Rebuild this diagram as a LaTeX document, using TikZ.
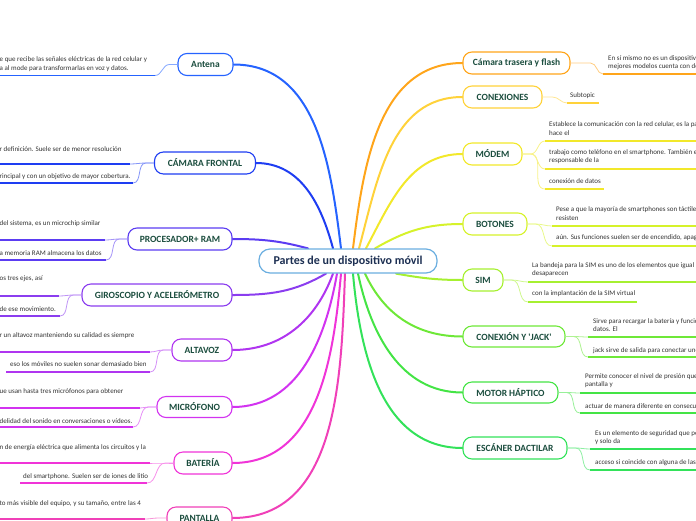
\documentclass[tikz,border=0pt]{standalone}
\usepackage{fontspec}
\setmainfont{Carlito}
\usetikzlibrary{backgrounds}
\definecolor{cAnt}{HTML}{2563FF}
\definecolor{cCF}{HTML}{1E3DF2}
\definecolor{cPro}{HTML}{5B3CF2}
\definecolor{cGir}{HTML}{8B3DEF}
\definecolor{cAlt}{HTML}{B035F0}
\definecolor{cMic}{HTML}{D233F0}
\definecolor{cBat}{HTML}{F034D8}
\definecolor{cPan}{HTML}{F040B8}
\definecolor{cCT}{HTML}{FFA51A}
\definecolor{cCon}{HTML}{FFD23A}
\definecolor{cMod}{HTML}{F2E82A}
\definecolor{cBot}{HTML}{D6F22A}
\definecolor{cSim}{HTML}{A6F030}
\definecolor{cJac}{HTML}{6EE838}
\definecolor{cMot}{HTML}{44E445}
\definecolor{cEsc}{HTML}{33E25A}
\definecolor{cCen}{HTML}{6AAEE0}
\definecolor{tNode}{HTML}{1B4D3E}
\definecolor{tCen}{HTML}{1C2F52}
\definecolor{tLeaf}{HTML}{333333}
\tikzset{
  topic/.style={draw=#1, line width=1.1pt, fill=white, rounded corners=9pt, text=tNode,
    font=\fontsize{9.5}{11}\selectfont\bfseries, minimum height=22pt, inner sep=0pt},
  centre/.style={draw=cCen, line width=1.2pt, fill=white, rounded corners=11pt, text=tCen,
    font=\fontsize{12}{14}\selectfont\bfseries, minimum height=24pt, minimum width=178pt, inner sep=0pt},
  branch/.style={draw=#1, line width=2pt, line cap=round},
  twig/.style={draw=#1!55, line width=0.8pt},
  uline/.style={draw=#1, line width=1.4pt},
  leaf/.style={font=\fontsize{7}{8}\selectfont, text=tLeaf, inner sep=0pt, anchor=west},
}
\begin{document}
\begin{tikzpicture}[x=1pt,y=1pt]
\useasboundingbox (0,0) rectangle (696,-520);
% central
\node[centre] (cen) at (348,-261) {Partes de un dispositivo móvil};
% left topics
\node[topic=cAnt, minimum width=55pt] (ant) at (205.5,-64.5) {Antena};
\node[topic=cCF, minimum width=101pt] (camf) at (205,-163) {CÁMARA FRONTAL};
\node[topic=cPro, minimum width=104pt] (proc) at (180,-239) {PROCESADOR+ RAM};
\node[topic=cGir, minimum width=150pt] (giro) at (157,-295) {GIROSCOPIO Y ACELERÓMETRO};
\node[topic=cAlt, minimum width=60pt] (alta) at (202,-350) {ALTAVOZ};
\node[topic=cMic, minimum width=75pt, minimum height=21pt] (micro) at (194.5,-407) {MICRÓFONO};
\node[topic=cBat, minimum width=58pt] (bat) at (203,-463) {BATERÍA};
\node[topic=cPan, minimum width=65pt] (pant) at (199.5,-518) {PANTALLA};
% right topics
\node[topic=cCT, minimum width=107pt] (camt) at (516.5,-63) {Cámara trasera y flash};
\node[topic=cCon, minimum width=79pt] (conex) at (502.5,-97) {CONEXIONES};
\node[topic=cMod, minimum width=59pt] (modem) at (492.5,-154) {MÓDEM};
\node[topic=cBot, minimum width=64pt] (boton) at (495,-224) {BOTONES};
\node[topic=cSim, minimum width=40pt] (sim) at (483,-280) {SIM};
\node[topic=cJac, minimum width=102pt, minimum height=21pt] (jack) at (514,-336.5) {CONEXIÓN Y \textquotesingle JACK\textquotesingle};
\node[topic=cMot, minimum width=95pt, minimum height=21pt] (motor) at (510.5,-392.5) {MOTOR HÁPTICO};
\node[topic=cEsc, minimum width=104pt] (esc) at (515,-448) {ESCÁNER DACTILAR};

% main branches
\begin{scope}[on background layer]
\draw[branch=cPro] ([xshift=-40pt]cen.north) to[out=165,in=0] (proc.east);
\draw[branch=cCF] ([xshift=-15pt]cen.north) to[out=105,in=0] (camf.east);
\draw[branch=cAnt] ([xshift=-7pt]cen.north) to[out=97,in=0] (ant.east);
\draw[branch=cCT] ([xshift=5pt]cen.north) to[out=83,in=180] (camt.west);
\draw[branch=cCon] ([xshift=11pt]cen.north) to[out=75,in=180] (conex.west);
\draw[branch=cMod] ([xshift=18pt]cen.north) to[out=62,in=180] (modem.west);
\draw[branch=cBot] ([xshift=27pt]cen.north) to[out=30,in=180] (boton.west);
\draw[branch=cGir] ([xshift=-22pt]cen.south) to[out=-150,in=0] (giro.east);
\draw[branch=cAlt] ([xshift=-15pt]cen.south) to[out=-110,in=0] (alta.east);
\draw[branch=cMic] ([xshift=-11pt]cen.south) to[out=-100,in=0] (micro.east);
\draw[branch=cBat] ([xshift=-7pt]cen.south) to[out=-95,in=0] (bat.east);
\draw[branch=cPan] ([xshift=-3pt]cen.south) to[out=-92,in=0] (pant.east);
\draw[branch=cEsc] ([xshift=5pt]cen.south) to[out=-85,in=180] (esc.west);
\draw[branch=cMot] ([xshift=10pt]cen.south) to[out=-78,in=180] (motor.west);
\draw[branch=cJac] ([xshift=17pt]cen.south) to[out=-65,in=180] (jack.west);
\draw[branch=cSim] ([xshift=48pt]cen.south) to[out=-10,in=180] (sim.west);
\end{scope}

% ---------- left leaves ----------
% Antena
\node[leaf] (ant1a) at (-0.5,-60) {e que recibe las señales eléctricas de la red celular y};
\node[leaf] (ant1b) at (-0.5,-69) {a al mode para transformarlas en voz y datos.};
\coordinate (ant1e) at (155,-75.5); \coordinate (ant1w) at (-2,-75.5);
\draw[twig=cAnt] (ant.west) -- ++(-8,0) to[out=180,in=0] (ant1e);
\draw[uline=cAnt] (ant1e) -- (ant1w);
% Camara frontal
\node[leaf] (cf1) at (-0.5,-149) {r definición. Suele ser de menor resolución};
\coordinate (cf1e) at (130,-164); \coordinate (cf1w) at (-2,-164);
\node[leaf] (cf2) at (-0.5,-177) {rincipal y con un objetivo de mayor cobertura.};
\coordinate (cf2e) at (133,-183); \coordinate (cf2w) at (-2,-183);
\draw[twig=cCF] (camf.west) -- ++(-8,0) to[out=180,in=0] (cf1e);
\draw[twig=cCF] (camf.west) -- ++(-8,0) to[out=180,in=0] (cf2e);
\draw[uline=cCF] (cf1e) -- (cf1w);
\draw[uline=cCF] (cf2e) -- (cf2w);
% Procesador
\node[leaf] (pr1) at (-0.5,-224) {del sistema, es un microchip similar};
\coordinate (pr1e) at (105,-240); \coordinate (pr1w) at (-2,-240);
\node[leaf] (pr2) at (-0.5,-253) {a memoria RAM almacena los datos};
\coordinate (pr2e) at (106,-260); \coordinate (pr2w) at (-2,-260);
\draw[twig=cPro] (proc.west) -- ++(-8,0) to[out=180,in=0] (pr1e);
\draw[twig=cPro] (proc.west) -- ++(-8,0) to[out=180,in=0] (pr2e);
\draw[uline=cPro] (pr1e) -- (pr1w);
\draw[uline=cPro] (pr2e) -- (pr2w);
% Giroscopio
\node[leaf] (gi1) at (-0.5,-279) {os tres ejes, así};
\coordinate (gi1e) at (59,-296); \coordinate (gi1w) at (-2,-296);
\node[leaf] (gi2) at (-0.5,-309) {de ese movimiento.};
\coordinate (gi2e) at (60,-316); \coordinate (gi2w) at (-2,-316);
\draw[twig=cGir] (giro.west) -- ++(-8,0) to[out=180,in=0] (gi1e);
\draw[twig=cGir] (giro.west) -- ++(-8,0) to[out=180,in=0] (gi2e);
\draw[uline=cGir] (gi1e) -- (gi1w);
\draw[uline=cGir] (gi2e) -- (gi2w);
% Altavoz
\node[leaf] (al1) at (-0.5,-336) {r un altavoz manteniendo su calidad es siempre};
\coordinate (al1e) at (150,-352); \coordinate (al1w) at (-2,-352);
\node[leaf] (al2) at (10,-364) {eso los móviles no suelen sonar demasiado bien};
\coordinate (al2e) at (150,-372); \coordinate (al2w) at (6,-372);
\draw[twig=cAlt] (alta.west) -- ++(-8,0) to[out=180,in=0] (al1e);
\draw[twig=cAlt] (alta.west) -- ++(-8,0) to[out=180,in=0] (al2e);
\draw[uline=cAlt] (al1e) -- (al1w);
\draw[uline=cAlt] (al2e) -- (al2w);
% Microfono
\node[leaf] (mi1) at (-0.5,-392) {ue usan hasta tres micrófonos para obtener};
\coordinate (mi1e) at (140,-408); \coordinate (mi1w) at (-2,-408);
\node[leaf] (mi2) at (-0.5,-421) {delidad del sonido en conversaciones o vídeos.};
\coordinate (mi2e) at (133,-427); \coordinate (mi2w) at (-2,-427);
\draw[twig=cMic] (micro.west) -- ++(-8,0) to[out=180,in=0] (mi1e);
\draw[twig=cMic] (micro.west) -- ++(-8,0) to[out=180,in=0] (mi2e);
\draw[uline=cMic] (mi1e) -- (mi1w);
\draw[uline=cMic] (mi2e) -- (mi2w);
% Bateria
\node[leaf] (ba1) at (-0.5,-448) {n de energía eléctrica que alimenta los circuitos y la};
\coordinate (ba1e) at (150,-463); \coordinate (ba1w) at (-2,-463);
\node[leaf] (ba2) at (23,-477) {del smartphone. Suelen ser de iones de litio};
\coordinate (ba2e) at (147,-483); \coordinate (ba2w) at (20,-483);
\draw[twig=cBat] (bat.west) -- ++(-8,0) to[out=180,in=0] (ba1e);
\draw[twig=cBat] (bat.west) -- ++(-8,0) to[out=180,in=0] (ba2e);
\draw[uline=cBat] (ba1e) -- (ba1w);
\draw[uline=cBat] (ba2e) -- (ba2w);
% Pantalla
\node[leaf] (pa1) at (-0.5,-504) {to más visible del equipo, y su tamaño, entre las 4};
\coordinate (pa1e) at (145,-519); \coordinate (pa1w) at (-2,-519);
\draw[twig=cPan] (pant.west) -- ++(-8,0) to[out=180,in=0] (pa1e);
\draw[uline=cPan] (pa1e) -- (pa1w);

% ---------- right leaves ----------
% Camara trasera
\node[leaf] (ct1a) at (608,-59) {En sí mismo no es un dispositivo};
\node[leaf] (ct1b) at (608,-67) {mejores modelos cuenta con do};
\coordinate (ct1w) at (603,-74); \coordinate (ct1e) at (698,-74);
\draw[twig=cCT] (camt.east) -- ++(20,0) to[out=0,in=180] (ct1w);
\draw[uline=cCT] (ct1w) -- (ct1e);
% Conexiones
\node[leaf] (co1) at (570,-96) {Subtopic};
\coordinate (co1w) at (567,-103); \coordinate (co1e) at (599,-103);
\draw[twig=cCon] (conex.east) -- ++(10,0) to[out=0,in=180] (co1w);
\draw[uline=cCon] (co1w) -- (co1e);
% Modem
\node[leaf] (mo1a) at (549,-125) {Establece la comunicación con la red celular, es la pa};
\node[leaf] (mo1b) at (549,-133) {hace el};
\coordinate (mo1w) at (545,-141); \coordinate (mo1e) at (698,-141);
\node[leaf] (mo2a) at (549,-153) {trabajo como teléfono en el smartphone. También es};
\node[leaf] (mo2b) at (549,-161) {responsable de la};
\coordinate (mo2w) at (545,-169); \coordinate (mo2e) at (698,-169);
\node[leaf] (mo3) at (549,-181) {conexión de datos};
\coordinate (mo3w) at (545,-189); \coordinate (mo3e) at (604,-189);
\draw[twig=cMod] (modem.east) -- ++(8,0) to[out=0,in=180] (mo1w);
\draw[twig=cMod] (modem.east) -- ++(8,0) to[out=0,in=180] (mo2w);
\draw[twig=cMod] (modem.east) -- ++(8,0) to[out=0,in=180] (mo3w);
\draw[uline=cMod] (mo1w) -- (mo1e);
\draw[uline=cMod] (mo2w) -- (mo2e);
\draw[uline=cMod] (mo3w) -- (mo3e);
% Botones
\node[leaf] (bo1a) at (556,-210) {Pese a que la mayoría de smartphones son táctiles};
\node[leaf] (bo1b) at (556,-218) {resisten};
\coordinate (bo1w) at (552,-226); \coordinate (bo1e) at (698,-226);
\node[leaf] (bo2) at (556,-238) {aún. Sus funciones suelen ser de encendido, apaga};
\coordinate (bo2w) at (552,-246); \coordinate (bo2e) at (698,-246);
\draw[twig=cBot] (boton.east) -- ++(8,0) to[out=0,in=180] (bo1w);
\draw[twig=cBot] (boton.east) -- ++(8,0) to[out=0,in=180] (bo2w);
\draw[uline=cBot] (bo1w) -- (bo1e);
\draw[uline=cBot] (bo2w) -- (bo2e);
% SIM
\node[leaf] (si1a) at (532,-266) {La bandeja para la SIM es uno de los elementos que igual};
\node[leaf] (si1b) at (532,-274) {desaparecen};
\coordinate (si1w) at (528,-282); \coordinate (si1e) at (698,-282);
\node[leaf] (si2) at (532,-294) {con la implantación de la SIM virtual};
\coordinate (si2w) at (528,-302); \coordinate (si2e) at (637,-302);
\draw[twig=cSim] (sim.east) -- ++(8,0) to[out=0,in=180] (si1w);
\draw[twig=cSim] (sim.east) -- ++(8,0) to[out=0,in=180] (si2w);
\draw[uline=cSim] (si1w) -- (si1e);
\draw[uline=cSim] (si2w) -- (si2e);
% Jack
\node[leaf] (ja1a) at (593,-322) {Sirve para recargar la batería y funcio};
\node[leaf] (ja1b) at (593,-329.5) {datos. El};
\coordinate (ja1w) at (588,-337); \coordinate (ja1e) at (698,-337);
\node[leaf] (ja2) at (593,-351) {jack sirve de salida para conectar uno};
\coordinate (ja2w) at (588,-357); \coordinate (ja2e) at (698,-357);
\draw[twig=cJac] (jack.east) -- ++(8,0) to[out=0,in=180] (ja1w);
\draw[twig=cJac] (jack.east) -- ++(8,0) to[out=0,in=180] (ja2w);
\draw[uline=cJac] (ja1w) -- (ja1e);
\draw[uline=cJac] (ja2w) -- (ja2e);
% Motor
\node[leaf] (mt1a) at (585,-377) {Permite conocer el nivel de presión que};
\node[leaf] (mt1b) at (585,-385) {pantalla y};
\coordinate (mt1w) at (580,-393); \coordinate (mt1e) at (698,-393);
\node[leaf] (mt2) at (585,-406) {actuar de manera diferente en consecu};
\coordinate (mt2w) at (580,-413); \coordinate (mt2e) at (698,-413);
\draw[twig=cMot] (motor.east) -- ++(8,0) to[out=0,in=180] (mt1w);
\draw[twig=cMot] (motor.east) -- ++(8,0) to[out=0,in=180] (mt2w);
\draw[uline=cMot] (mt1w) -- (mt1e);
\draw[uline=cMot] (mt2w) -- (mt2e);
% Escaner
\node[leaf] (es1a) at (595,-434) {Es un elemento de seguridad que pe};
\node[leaf] (es1b) at (595,-442) {y solo da};
\coordinate (es1w) at (590,-449); \coordinate (es1e) at (698,-449);
\node[leaf] (es2) at (595,-463) {acceso si coincide con alguna de las};
\coordinate (es2w) at (590,-470); \coordinate (es2e) at (698,-470);
\draw[twig=cEsc] (esc.east) -- ++(8,0) to[out=0,in=180] (es1w);
\draw[twig=cEsc] (esc.east) -- ++(8,0) to[out=0,in=180] (es2w);
\draw[uline=cEsc] (es1w) -- (es1e);
\draw[uline=cEsc] (es2w) -- (es2e);
\end{tikzpicture}
\end{document}
